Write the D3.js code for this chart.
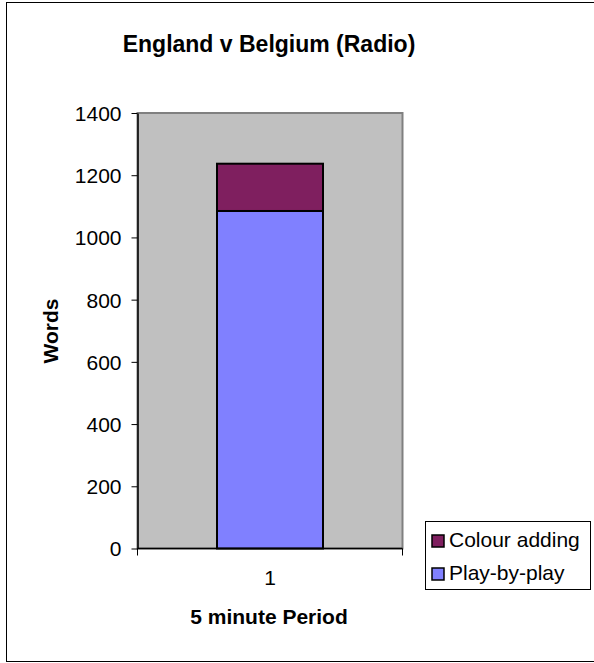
<!DOCTYPE html>
<html>
<head>
<meta charset="utf-8">
<script src="https://cdn.jsdelivr.net/npm/d3@7/dist/d3.min.js"></script>
<style>
  html, body { margin: 0; padding: 0; background: #fff; }
  svg { display: block; font-family: "Liberation Sans", Arial, sans-serif; }
</style>
</head>
<body>
<svg id="chart" width="594" height="663"></svg>
<script>
// Word counts per 5 minute period, stacked by commentary type
const periods = ["1"];
const playByPlay = [1085];
const colourAdding = [152];
const yTicks = [0, 200, 400, 600, 800, 1000, 1200, 1400];
const seriesNames = ["Colour adding", "Play-by-play"];

const FONT = "Liberation Sans, Arial, sans-serif";
const svg = d3.select("#chart");

// outer frame
svg.append("rect")
  .attr("x", 6.5).attr("y", 2.5)
  .attr("width", 600).attr("height", 659)
  .attr("fill", "#fff").attr("stroke", "#000").attr("stroke-width", 1);

const plot = { left: 137.5, right: 402.5, top: 113, bottom: 548.5 };

const x = d3.scaleBand()
  .domain(periods)
  .range([plot.left, plot.right])
  .paddingInner(0)
  .paddingOuter(0.75);

const y = d3.scaleLinear()
  .domain([0, 1400])
  .range([plot.bottom, plot.top]);

// plot area
svg.append("rect")
  .attr("x", plot.left).attr("y", plot.top)
  .attr("width", plot.right - plot.left).attr("height", plot.bottom - plot.top)
  .attr("fill", "#c0c0c0").attr("stroke", "#808080").attr("stroke-width", 2);

// stacked bars
const stackData = periods.map((p, i) => ({ period: p, play: playByPlay[i], colour: colourAdding[i] }));
const layers = d3.stack().keys(["play", "colour"])(stackData);
const fills = { play: "#8080ff", colour: "#7f1f5f" };

svg.append("g").selectAll("g")
  .data(layers)
  .join("g")
  .attr("fill", d => fills[d.key])
  .selectAll("rect")
  .data(d => d)
  .join("rect")
  .attr("x", d => x(d.data.period))
  .attr("width", x.bandwidth())
  .attr("y", d => y(d[1]))
  .attr("height", d => y(d[0]) - y(d[1]))
  .attr("stroke", "#000").attr("stroke-width", 2);

// y axis
const yAxis = d3.axisLeft(y).tickValues(yTicks).tickFormat(d3.format("d"))
  .tickSize(6).tickPadding(10).tickSizeOuter(0);
const gy = svg.append("g").attr("transform", `translate(${plot.left},0)`).call(yAxis);
gy.attr("font-size", 21).attr("font-family", FONT);
gy.select(".domain").attr("stroke", "#000").attr("stroke-width", 1.5);
gy.selectAll(".tick line").attr("stroke", "#000");
gy.selectAll(".tick text").attr("fill", "#000").attr("dy", "0.35em");

// x axis
const xAxis = d3.axisBottom(x).tickSize(0).tickPadding(22);
const gx = svg.append("g").attr("transform", `translate(0,${plot.bottom})`).call(xAxis);
gx.attr("font-size", 21).attr("font-family", FONT);
gx.select(".domain").remove();
gx.selectAll(".tick text").attr("fill", "#000");
// category boundary ticks
svg.append("g").selectAll("line")
  .data([plot.left, plot.right])
  .join("line")
  .attr("x1", d => d).attr("x2", d => d)
  .attr("y1", plot.bottom).attr("y2", plot.bottom + 7)
  .attr("stroke", "#000");
svg.append("line")
  .attr("x1", plot.left).attr("x2", plot.right)
  .attr("y1", plot.bottom).attr("y2", plot.bottom)
  .attr("stroke", "#000").attr("stroke-width", 1.5);

// titles
svg.append("text")
  .attr("x", 269).attr("y", 52)
  .attr("text-anchor", "middle")
  .attr("font-size", 23).attr("font-weight", "bold")
  .text("England v Belgium (Radio)");

svg.append("text")
  .attr("x", 269).attr("y", 624)
  .attr("text-anchor", "middle")
  .attr("font-size", 21).attr("font-weight", "bold")
  .text("5 minute Period");

svg.append("text")
  .attr("transform", "translate(58,331) rotate(-90)")
  .attr("text-anchor", "middle")
  .attr("font-size", 21).attr("font-weight", "bold")
  .text("Words");

// legend
const legend = svg.append("g").attr("font-size", 21);
legend.append("rect")
  .attr("x", 425.5).attr("y", 521.5)
  .attr("width", 165).attr("height", 68)
  .attr("fill", "#fff").attr("stroke", "#000");
const legendFills = [fills.colour, fills.play];
const items = legend.selectAll("g.item")
  .data(seriesNames)
  .join("g")
  .attr("class", "item")
  .attr("transform", (d, i) => `translate(0,${547 + i * 33})`);
items.append("rect")
  .attr("x", 432).attr("y", -12)
  .attr("width", 12).attr("height", 12)
  .attr("fill", (d, i) => legendFills[i])
  .attr("stroke", "#000").attr("stroke-width", 1.5);
items.append("text")
  .attr("x", 449).attr("y", 0)
  .text(d => d);
</script>
</body>
</html>
